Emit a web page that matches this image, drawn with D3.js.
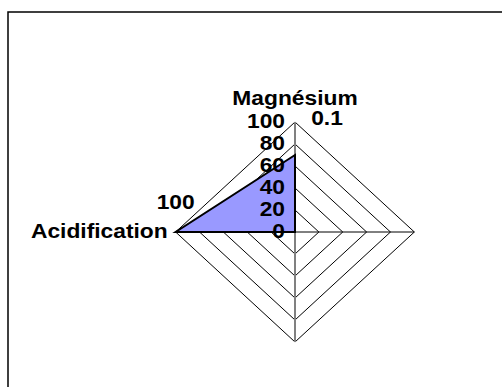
<!DOCTYPE html>
<html><head><meta charset="utf-8">
<script src="https://cdn.jsdelivr.net/npm/d3@7"></script>
<style>html,body{margin:0;padding:0;background:#fff;}svg{display:block;}</style>
</head><body>
<script>
const categories = ["Magnésium", "", "", "Acidification"];
const values = [70, 0, 0, 100];
const dataLabels = ["0.1", "", "", "100"];
const tickValues = [0, 20, 40, 60, 80, 100];

const W = 502, H = 387;
const cx = 295, cy = 232, R = 110, sx = 1.085;
const fontFam = "'Liberation Sans', Arial, sans-serif";

const svg = d3.select("body").append("svg").attr("width", W).attr("height", H);

// frame
svg.append("rect").attr("x", 8).attr("y", 12).attr("width", 600).attr("height", 500)
  .attr("fill", "none").attr("stroke", "#000").attr("stroke-width", 1.5);

const r = d3.scaleLinear().domain([0, 100]).range([0, R]);
const angle = d3.scaleLinear().domain([0, categories.length]).range([0, 2 * Math.PI]);
const pt = (i, v) => [cx + sx * r(v) * Math.sin(angle(i)), cy - r(v) * Math.cos(angle(i))];

// grid rings
const ringLine = d3.line();
tickValues.filter(t => t > 0).forEach(t => {
  const pts = categories.map((c, i) => pt(i, t));
  svg.append("path").attr("d", ringLine(pts) + "Z")
    .attr("fill", "none").attr("stroke", "#000").attr("stroke-width", 1);
});

// spokes
categories.forEach((c, i) => {
  const [x, y] = pt(i, 100);
  svg.append("line").attr("x1", cx).attr("y1", cy).attr("x2", x).attr("y2", y)
    .attr("stroke", (i % 2 === 0) ? "#808080" : "#000")
    .attr("stroke-width", (i % 2 === 0) ? 2 : 1);
});

// series polygon
const polyPts = values.map((v, i) => pt(i, v));
svg.append("path").attr("d", d3.line()(polyPts) + "Z")
  .attr("fill", "#9999FF").attr("stroke", "#000").attr("stroke-width", 2)
  .attr("stroke-linejoin", "miter");

function txt(x, y, s, anchor) {
  svg.append("text").attr("transform", `translate(${x},${y}) scale(${sx},1)`)
    .attr("text-anchor", anchor).attr("font-family", fontFam)
    .attr("font-weight", "bold").attr("font-size", 21).attr("fill", "#000").text(s);
}

// tick labels along the first axis
tickValues.forEach(t => {
  const [x, y] = pt(0, t);
  txt(cx - 10, y + 5.5, d3.format("d")(t), "end");
});

// category labels
categories.forEach((c, i) => {
  if (!c) return;
  const [x, y] = pt(i, 100);
  if (i === 0) txt(x, y - 17, c, "middle");
  else txt(x - 8, y + 5.5, c, "end");
});

// data labels
dataLabels.forEach((l, i) => {
  if (!l) return;
  const [x, y] = pt(i, values[i]);
  if (i === 0) txt(cx + 32, pt(0, 100)[1] + 3, l, "middle");
  else txt(x, y - 23, l, "middle");
});
</script>
</body></html>
